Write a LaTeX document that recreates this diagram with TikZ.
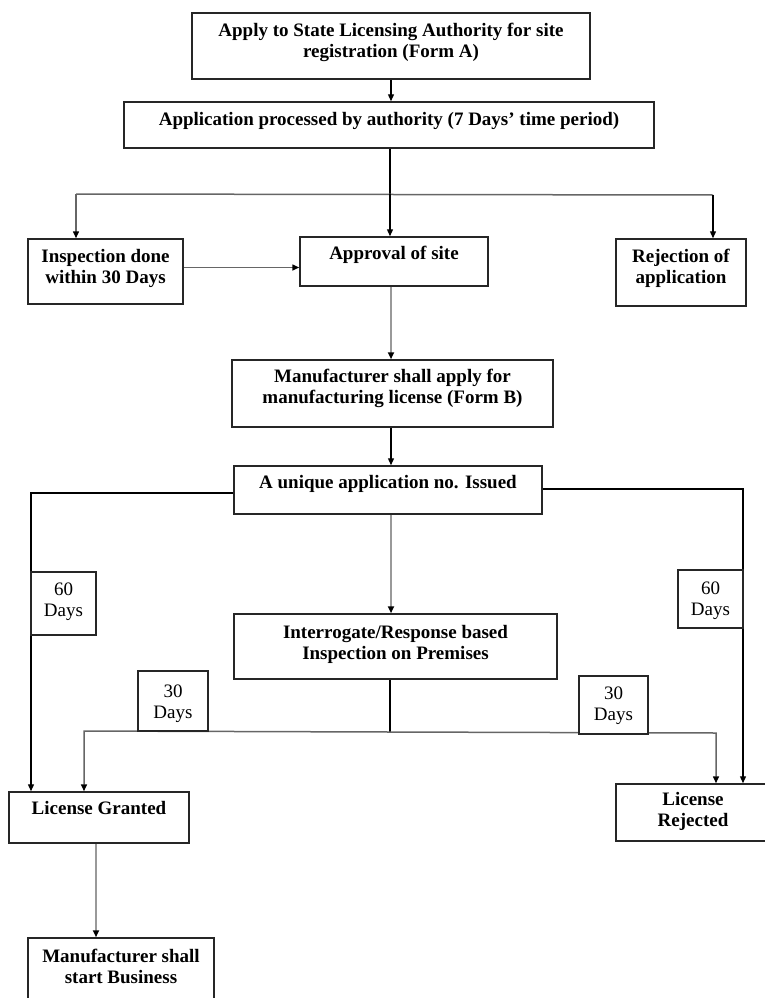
\documentclass[tikz,border=0pt]{standalone}
\usepackage{fontspec}
\setmainfont{Liberation Serif}
\usetikzlibrary{arrows.meta}
% strut that fixes the height of the first text line
\newcommand\firstlinestrut{\rule{0pt}{15pt}}
\begin{document}
\begin{tikzpicture}[x=1pt,y=-1pt,
  box/.style={draw=black!85,line width=1.5pt,rectangle,inner sep=0pt,fill=white},
  txt/.style={inner sep=0pt,align=center,anchor=north,font=\bfseries\fontsize{19}{21}\selectfont},
  daytxt/.style={inner sep=0pt,align=center,anchor=north,font=\fontsize{19}{21.5}\selectfont},
  tip/.style={-{Triangle[length=7pt,width=6pt,color=black]}},
  conn/.style={draw=black,line width=1.3pt},
  connmid/.style={draw=black!60,line width=1.5pt},
  connlight/.style={draw=black!40,line width=2pt}]
\useasboundingbox (0,0) rectangle (765,998);
\clip (0,0) rectangle (765,998);

% ---- process boxes ----
\node[box,minimum width=398pt,minimum height=66pt] (b1) at (391,46) {};
\node[box,minimum width=530pt,minimum height=46pt] (b2) at (389,125) {};
\node[box,minimum width=155pt,minimum height=65pt] (insp) at (105.5,271.5) {};
\node[box,minimum width=188pt,minimum height=49pt] (apr) at (394,261.5) {};
\node[box,minimum width=130pt,minimum height=67pt] (rej) at (681,272.5) {};
\node[box,minimum width=321pt,minimum height=67pt] (formb) at (392.5,393.5) {};
\node[box,minimum width=308pt,minimum height=48pt] (uniq) at (388,490) {};
\node[box,minimum width=323pt,minimum height=65pt] (inter) at (395.5,646.5) {};
\node[box,minimum width=180pt,minimum height=51pt] (lg) at (99,817.5) {};
\node[box,minimum width=154pt,minimum height=57pt] (lr) at (693,812.5) {};
\node[box,minimum width=186pt,minimum height=74pt] (start) at (121,975) {};

% ---- box texts ----
\node[txt] (t1) at ([yshift=-9pt]b1.north) {\firstlinestrut Apply to State Licensing Authority for site\\registration (Form A)};
\node[txt] (t2) at ([yshift=-9pt]b2.north) {\firstlinestrut Application processed by authority (7 Days’ time period)};
\node[txt] (t3) at ([yshift=-9pt]insp.north) {\firstlinestrut Inspection done\\within 30 Days};
\node[txt] (t4) at ([yshift=-8pt]apr.north) {\firstlinestrut Approval of site};
\node[txt] (t5) at ([yshift=-9pt]rej.north) {\firstlinestrut Rejection of\\application};
\node[txt] (t6) at ([yshift=-8pt]formb.north) {\firstlinestrut Manufacturer shall apply for\\manufacturing license (Form B)};
\node[txt] (t7) at ([yshift=-8pt]uniq.north) {\firstlinestrut A unique application no. Issued};
\node[txt] (t8) at ([yshift=-10pt]inter.north) {\firstlinestrut Interrogate/Response based\\Inspection on Premises};
\node[txt] (t9) at ([yshift=-8pt]lg.north) {\firstlinestrut License Granted};
\node[txt] (t10) at ([yshift=-7pt]lr.north) {\firstlinestrut License\\Rejected};
\node[txt] (t11) at ([yshift=-10pt]start.north) {\firstlinestrut Manufacturer shall\\start Business};

% ---- junction points ----
\coordinate (ax) at (391,0);
\coordinate (j1) at (390,194);
\coordinate (jl) at (76,194);
\coordinate (jr) at (713,195);
\coordinate (ul) at (31,493);
\coordinate (ur) at (743,489);
\coordinate (ij) at (390,732);
\coordinate (il) at (84,731);
\coordinate (ir) at (716,733);
\coordinate (sx) at (96,0);

% ---- connectors ----
\draw[conn,tip] (b1.south) -- (b1.south |- b2.north);
\draw[conn] (j1 |- b2.south) -- (j1);
\draw[connmid] (jl) -- (jr);
\draw[conn,tip] (j1) -- (j1 |- apr.north);
\draw[connmid,tip] (jl) -- (jl |- insp.north);
\draw[conn,tip] (jr) -- (jr |- rej.north);
\draw[connmid,tip] ([yshift=4pt]insp.east) -- ([yshift=4pt]insp.east -| apr.west);
\draw[connlight,tip] (ax |- apr.south) -- (ax |- formb.north);
\draw[conn,tip] (ax |- formb.south) -- (ax |- uniq.north);
\draw[conn,tip] (ul -| uniq.west) -- (ul) -- (ul |- lg.north);
\draw[conn,tip] (ur -| uniq.east) -- (ur) -- (ur |- lr.north);
\draw[connlight,tip] (ax |- uniq.south) -- (ax |- inter.north);
\draw[conn] (ij |- inter.south) -- (ij);
\draw[connmid,tip] (ij) -- (il) -- (il |- lg.north);
\draw[connmid,tip] (ij) -- (ir) -- (ir |- lr.north);
\draw[connlight,tip] (sx |- lg.south) -- (sx |- start.north);

% ---- duration labels ----
\node[box,minimum width=65pt,minimum height=63pt] (d60l) at (63.5,603.5) {};
\node[box,minimum width=65pt,minimum height=58pt] (d60r) at (710.5,599) {};
\node[box,minimum width=70pt,minimum height=60pt] (d30l) at (173,701) {};
\node[box,minimum width=69pt,minimum height=58pt] (d30r) at (613.5,705) {};
\node[daytxt] (t60l) at ([yshift=-9pt]d60l.north) {\firstlinestrut 60\\Days};
\node[daytxt] (t60r) at ([yshift=-10pt]d60r.north) {\firstlinestrut 60\\Days};
\node[daytxt] (t30l) at ([yshift=-12pt]d30l.north) {\firstlinestrut 30\\Days};
\node[daytxt] (t30r) at ([yshift=-9pt]d30r.north) {\firstlinestrut 30\\Days};
\end{tikzpicture}
\end{document}
